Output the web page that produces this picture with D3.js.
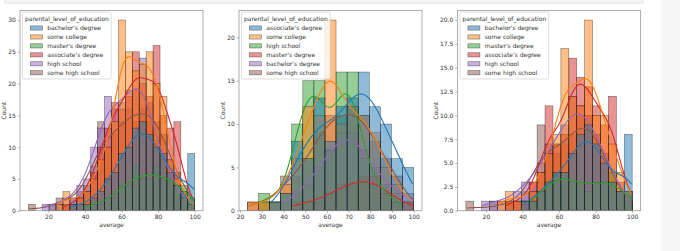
<!DOCTYPE html>
<html>
<head>
<meta charset="utf-8">
<script src="https://cdn.jsdelivr.net/npm/d3@7"></script>
<style>
  body { margin: 0; background: #fff; }
  svg { display: block; }
</style>
</head>
<body>
<div id="chart"></div>
<script>
// hue levels, in order of first appearance in each subset
const allLevels = ["bachelor's degree", "some college", "master's degree", "associate's degree", "high school", "some high school"];
const maleLevels = ["associate's degree", "some college", "high school", "master's degree", "bachelor's degree", "some high school"];
const femaleLevels = ["bachelor's degree", "some college", "master's degree", "associate's degree", "high school", "some high school"];

// value range covered by the bins of each subplot
const allRange = [9, 100];
const maleRange = [23.33, 100];
const femaleRange = [9, 100];

// counts per bin, one row per level (same order as the levels above)
const allCounts = [
  [0, 0, 0, 0, 0, 0, 1, 1, 1, 2, 3, 5, 6, 9, 10, 13, 14, 12, 10, 9, 6, 4, 3, 9],
  [0, 0, 0, 0, 1, 3, 1, 2, 3, 5, 8, 10, 14, 30, 25, 22, 23, 25, 20, 18, 8, 5, 2, 1],
  [0, 0, 0, 0, 0, 0, 0, 0, 1, 1, 1, 2, 2, 4, 4, 7, 5, 5, 7, 5, 5, 4, 4, 2],
  [0, 0, 0, 0, 0, 1, 1, 2, 3, 6, 10, 13, 17, 16, 18, 25, 20, 18, 26, 15, 13, 14, 3, 1],
  [0, 0, 1, 1, 1, 2, 2, 4, 5, 10, 13, 18, 16, 17, 19, 19, 24, 14, 11, 8, 6, 3, 2, 0],
  [1, 0, 0, 1, 2, 1, 2, 3, 4, 7, 14, 10, 12, 14, 16, 14, 16, 17, 14, 12, 8, 6, 3, 2]
];
const maleCounts = [
  [0, 0, 1, 2, 8, 6, 13, 8, 12, 13, 16, 12, 10, 6, 5],
  [1, 1, 1, 3, 6, 12, 11, 22, 10, 12, 11, 9, 5, 3, 1],
  [0, 2, 1, 2, 10, 15, 15, 7, 16, 16, 6, 3, 2, 1, 0],
  [0, 0, 0, 0, 1, 1, 1, 2, 3, 3, 4, 4, 2, 1, 1],
  [0, 0, 0, 1, 2, 3, 5, 7, 9, 9, 7, 5, 3, 2, 2],
  [1, 1, 1, 4, 4, 6, 9, 11, 11, 12, 11, 8, 6, 4, 1]
];
const femaleCounts = [
  [0, 0, 0, 0, 0, 0, 0, 1, 1, 2, 3, 4, 4, 6, 8, 9, 7, 5, 3, 2, 8],
  [0, 0, 0, 0, 1, 2, 1, 1, 2, 4, 6, 8, 17, 12, 11, 20, 10, 10, 7, 4, 2],
  [0, 0, 0, 0, 0, 0, 0, 0, 1, 2, 3, 4, 4, 3, 3, 2, 3, 3, 4, 2, 2],
  [0, 0, 0, 0, 0, 1, 1, 1, 3, 4, 11, 7, 8, 16, 14, 13, 11, 9, 12, 3, 2],
  [0, 0, 1, 1, 1, 1, 2, 3, 3, 5, 7, 7, 9, 12, 11, 10, 8, 6, 4, 2, 1],
  [1, 0, 0, 1, 0, 1, 1, 2, 2, 9, 6, 6, 7, 8, 10, 10, 8, 6, 3, 2, 1]
];

// tick labels
const allXTicks = [20, 40, 60, 80, 100];
const allYTicks = [0, 5, 10, 15, 20, 25, 30];
const maleXTicks = [20, 30, 40, 50, 60, 70, 80, 90, 100];
const maleYTicks = [0, 5, 10, 15, 20];
const femaleXTicks = [20, 40, 60, 80, 100];
const femaleYTicks = [0, 2.5, 5, 7.5, 10, 12.5, 15, 17.5, 20];

const palette = ["#1f77b4", "#ff7f0e", "#2ca02c", "#d62728", "#9467bd", "#8c564b"];
const font = "DejaVu Sans, sans-serif";

const width = 680, height = 251;
const plotTop = 10.5, plotH = 200.2, plotW = 183;

const svg = d3.select("#chart").append("svg")
    .attr("width", width)
    .attr("height", height);

// bits of the notebook around the figure
svg.append("rect")
    .attr("x", 5).attr("y", -6).attr("width", 638).attr("height", 9)
    .attr("fill", "#f7f7f7").attr("stroke", "#dedede");
svg.append("rect")
    .attr("x", 661).attr("y", 0).attr("width", 19).attr("height", height)
    .attr("fill", "#f6f6f6");

// gaussian kde (scott bandwidth) of binned counts, scaled to counts like seaborn
function kde(counts, lo, binW) {
    const centers = counts.map((c, k) => lo + (k + 0.5) * binW);
    const n = d3.sum(counts);
    const mean = d3.sum(counts, (c, k) => c * centers[k]) / n;
    const variance = d3.sum(counts, (c, k) => c * (centers[k] - mean) ** 2) / (n - 1) - binW * binW / 12;
    const bw = Math.sqrt(variance) * Math.pow(n, -0.2);
    const first = counts.findIndex(c => c > 0);
    const last = counts.length - 1 - [...counts].reverse().findIndex(c => c > 0);
    const a = Math.max(lo, centers[first] - binW * 0.4);
    const b = Math.min(lo + counts.length * binW, centers[last] + binW * 0.4);
    return d3.range(201).map(j => {
        const t = a + (b - a) * j / 200;
        const dens = d3.sum(counts, (c, k) => c * Math.exp(-0.5 * ((t - centers[k]) / bw) ** 2))
            / (n * bw * Math.sqrt(2 * Math.PI));
        return [t, dens * n * binW];
    });
}

function drawPanel(p) {
    const g = svg.append("g").attr("transform", `translate(${p.left},${plotTop})`);
    const nBins = p.counts[0].length;
    const binW = (p.range[1] - p.range[0]) / nBins;
    const pad = (p.range[1] - p.range[0]) * 0.05;

    const x = d3.scaleLinear()
        .domain([p.range[0] - pad, p.range[1] + pad])
        .range([0, plotW]);
    const y = d3.scaleLinear()
        .domain([0, d3.max(p.counts.flat()) * 1.05])
        .range([plotH, 0]);

    // first level drawn last so it ends on top
    const order = d3.range(p.levels.length).reverse();
    order.forEach(i => {
        const bins = p.counts[i]
            .map((c, k) => ({c, x0: p.range[0] + k * binW, x1: p.range[0] + (k + 1) * binW}))
            .filter(d => d.c > 0);
        g.append("g").selectAll("rect")
            .data(bins)
            .join("rect")
            .attr("x", d => x(d.x0))
            .attr("y", d => y(d.c))
            .attr("width", d => x(d.x1) - x(d.x0))
            .attr("height", d => y(0) - y(d.c))
            .attr("fill", palette[i])
            .attr("fill-opacity", 0.5)
            .attr("stroke", "#000")
            .attr("stroke-opacity", 0.5)
            .attr("stroke-width", 0.6);
    });

    const line = d3.line().x(d => x(d[0])).y(d => y(d[1]));
    order.forEach(i => {
        g.append("path")
            .datum(kde(p.counts[i], p.range[0], binW))
            .attr("d", line)
            .attr("fill", "none")
            .attr("stroke", palette[i])
            .attr("stroke-width", 1.1);
    });

    const xAxis = g.append("g")
        .attr("transform", `translate(0,${plotH})`)
        .call(d3.axisBottom(x).tickValues(p.xTicks).tickSize(2.1).tickPadding(2.1));
    const yAxis = g.append("g")
        .call(d3.axisLeft(y).tickValues(p.yTicks).tickFormat(p.yFmt).tickSize(2.1).tickPadding(2.1));
    [xAxis, yAxis].forEach(a => {
        a.attr("font-size", 6).attr("font-family", font);
        a.select(".domain").remove();
        a.selectAll("line").attr("stroke", "#777").attr("stroke-width", 0.6);
        a.selectAll("text").attr("fill", "#333");
    });

    g.append("rect")
        .attr("width", plotW)
        .attr("height", plotH)
        .attr("fill", "none")
        .attr("stroke", "#9a9a9a")
        .attr("stroke-width", 0.8);

    g.append("text")
        .attr("x", plotW / 2)
        .attr("y", plotH + 16.5)
        .attr("text-anchor", "middle")
        .attr("font-size", 6).attr("font-family", font).attr("fill", "#333")
        .text("average");

    const bb = yAxis.node().getBBox();
    g.append("text")
        .attr("transform", `translate(${bb.x - 2.4},${plotH / 2}) rotate(-90)`)
        .attr("text-anchor", "middle")
        .attr("font-size", 6).attr("font-family", font).attr("fill", "#333")
        .text("Count");

    // legend
    const lg = g.append("g").attr("transform", "translate(2.5,1.5)");
    const box = lg.append("rect")
        .attr("rx", 1.2)
        .attr("fill", "#fff").attr("fill-opacity", 0.8)
        .attr("stroke", "#d0d0d0").attr("stroke-width", 0.7);
    const title = lg.append("text")
        .attr("x", 2.4).attr("y", 9.2)
        .attr("font-size", 6).attr("font-family", font).attr("fill", "#333")
        .text("parental_level_of_education");
    const tw = title.node().getComputedTextLength();

    const labels = lg.selectAll(".lab")
        .data(p.levels)
        .join("text")
        .attr("class", "lab")
        .attr("font-size", 6).attr("font-family", font).attr("fill", "#333")
        .attr("dy", "0.35em")
        .text(d => d);
    const maxLab = d3.max(labels.nodes(), n => n.getComputedTextLength());
    const x0 = 2.4 + Math.max(0, (tw - (12 + 4.8 + maxLab)) / 2);
    labels.attr("x", x0 + 16.8).attr("y", (d, i) => 16 + i * 8.95);

    lg.selectAll(".patch")
        .data(p.levels)
        .join("rect")
        .attr("class", "patch")
        .attr("x", x0)
        .attr("y", (d, i) => 16 + i * 8.95 - 2.1)
        .attr("width", 12)
        .attr("height", 4.2)
        .attr("fill", (d, i) => palette[i]).attr("fill-opacity", 0.5)
        .attr("stroke", "#000").attr("stroke-opacity", 0.5).attr("stroke-width", 0.6);

    box.attr("width", tw + 4.8).attr("height", 67);
}

const panels = [
    {levels: allLevels, counts: allCounts, range: allRange, xTicks: allXTicks, yTicks: allYTicks, yFmt: d3.format("d"), left: 20},
    {levels: maleLevels, counts: maleCounts, range: maleRange, xTicks: maleXTicks, yTicks: maleYTicks, yFmt: d3.format("d"), left: 239},
    {levels: femaleLevels, counts: femaleCounts, range: femaleRange, xTicks: femaleXTicks, yTicks: femaleYTicks, yFmt: d3.format(".1f"), left: 457.5}
];
panels.forEach(drawPanel);
</script>
</body>
</html>
